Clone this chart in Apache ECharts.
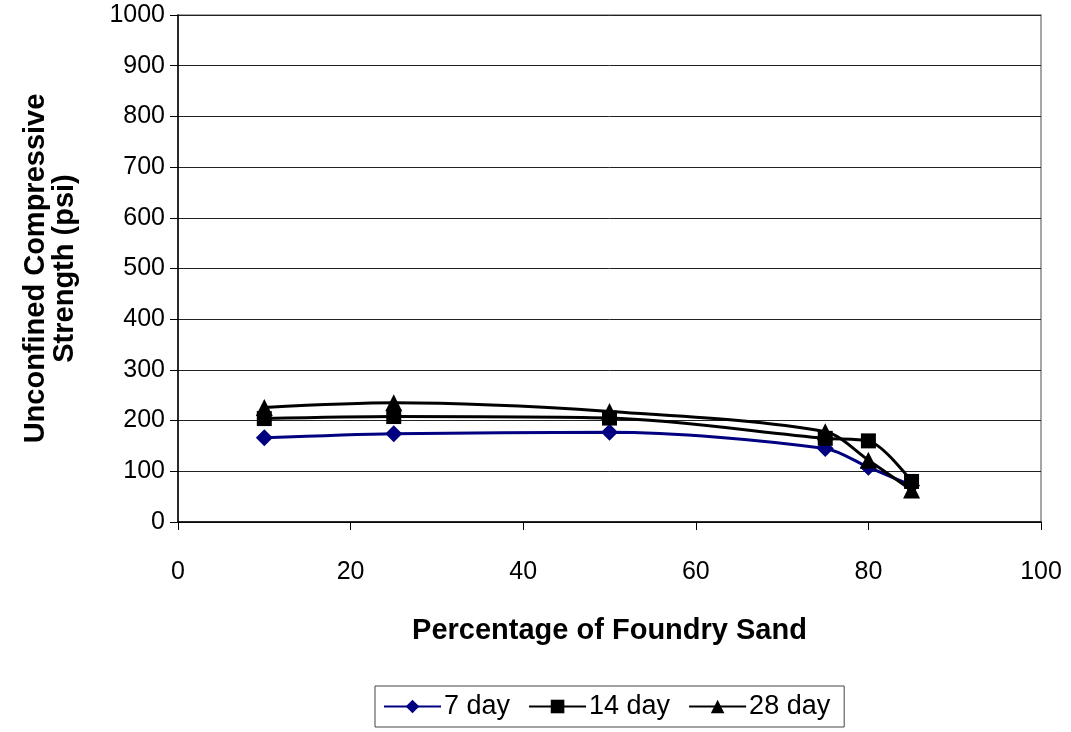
<!DOCTYPE html>
<html>
<head>
<meta charset="utf-8">
<script src="https://cdn.jsdelivr.net/npm/echarts@6/dist/echarts.min.js"></script>
<style>
  html, body { margin: 0; padding: 0; background: #fff; }
  #main { width: 1071px; height: 732px; }
</style>
</head>
<body>
<div id="main"></div>
<script>
// percentage of foundry sand
var sandPct = [10, 25, 50, 75, 80, 85];
var day7 = [166, 174, 177, 145, 108, 72];
var day14 = [204, 208, 205, 165, 160, 80];
var day28 = [226, 235, 218, 178, 122, 63];
var seriesNames = ["7 day", "14 day", "28 day"];

function pairs(vals) {
  return sandPct.map(function (x, i) { return [x, vals[i]]; });
}

var myChart = echarts.init(document.getElementById("main"));
var font = "Liberation Sans, Arial, sans-serif";

var option = {
  animation: false,
  textStyle: { fontFamily: font },
  grid: {
    left: 178, right: 30, top: 15, bottom: 210,
    show: true, borderColor: "#888", borderWidth: 1.5
  },
  legend: {
    bottom: 5,
    left: 375,
    data: seriesNames,
    itemWidth: 57,
    itemHeight: 17,
    itemGap: 18,
    padding: [7, 14, 7, 8],
    borderColor: "#444",
    borderWidth: 1,
    textStyle: { fontSize: 27, color: "#000", fontFamily: font, padding: [0, 0, 0, -2] }
  },
  xAxis: {
    type: "value",
    min: 0, max: 100, interval: 20,
    name: "Percentage of Foundry Sand",
    nameLocation: "middle",
    nameGap: 94,
    nameTextStyle: { fontSize: 29, fontWeight: "bold", color: "#000", fontFamily: font },
    axisLine: { lineStyle: { color: "#000", width: 1.5 } },
    axisTick: { show: true, length: 8, lineStyle: { color: "#000" } },
    axisLabel: { fontSize: 25, color: "#000", margin: 38, fontFamily: font },
    splitLine: { show: false }
  },
  yAxis: {
    type: "value",
    min: 0, max: 1000, interval: 100,
    name: "Unconfined Compressive\nStrength (psi)",
    nameLocation: "middle",
    nameGap: 99,
    nameTextStyle: { fontSize: 29, fontWeight: "bold", color: "#000", lineHeight: 29, fontFamily: font },
    axisLine: { show: true, lineStyle: { color: "#000", width: 1.5 } },
    axisTick: { show: true, length: 8, lineStyle: { color: "#000" } },
    axisLabel: {
      fontSize: 25, color: "#000", margin: 13, fontFamily: font,
      formatter: function (v) { return String(v); }
    },
    splitLine: { show: true, lineStyle: { color: "#222", width: 1 } }
  },
  series: [
    {
      name: "7 day", type: "line", smooth: 0.3,
      data: pairs(day7),
      symbol: "diamond", symbolSize: 17,
      itemStyle: { color: "#000080" },
      lineStyle: { color: "#000080", width: 3 }
    },
    {
      name: "14 day", type: "line", smooth: 0.3,
      data: pairs(day14),
      symbol: "rect", symbolSize: 15,
      itemStyle: { color: "#000" },
      lineStyle: { color: "#000", width: 3 }
    },
    {
      name: "28 day", type: "line", smooth: 0.3,
      data: pairs(day28),
      symbol: "triangle", symbolSize: 17,
      itemStyle: { color: "#000" },
      lineStyle: { color: "#000", width: 3 }
    }
  ]
};

option && myChart.setOption(option);
</script>
</body>
</html>
